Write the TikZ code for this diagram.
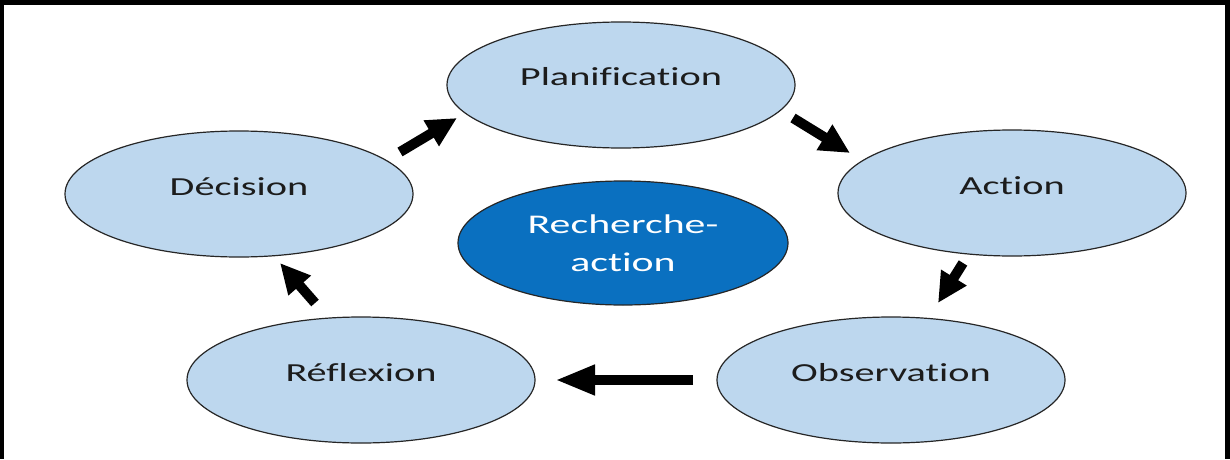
\documentclass[tikz,border=0pt]{standalone}
\usepackage{fontspec}
\setmainfont{Carlito}[FakeStretch=1.55,Ligatures=NoCommon]
\usetikzlibrary{shapes.geometric,arrows.meta}
\definecolor{lightfill}{HTML}{BDD7EE}
\definecolor{darkfill}{HTML}{0A70C0}
\definecolor{txt}{HTML}{1C1C1C}
\begin{document}
\begin{tikzpicture}[x=1pt,y=1pt,
  stage/.style={ellipse,draw=black!85,line width=1.2pt,fill=lightfill,
    minimum width=348pt,minimum height=126pt,inner sep=0pt},
  core/.style={ellipse,draw=black!85,line width=1.2pt,fill=darkfill,
    minimum width=330pt,minimum height=124pt,inner sep=0pt,
    text=white,align=center,font=\fontsize{27}{38}\selectfont},
  lbl/.style={text=txt,font=\fontsize{26}{30}\selectfont},
  blockarrow/.style={line width=10pt,-{Triangle[length=30pt,width=28pt]},black}]
\useasboundingbox (0,0) rectangle (1230,459);
\fill[white] (0,0) rectangle (1230,459);
\draw[line width=5pt,line join=miter] (1.75,0) -- (1.75,456.5) -- (1227.5,456.5) -- (1227.5,0);
\node[stage] (plan) at (621,374) {};
\node[lbl] at ([yshift=8pt]plan.center) {Planification};
\node[stage] (dec) at (239,265) {};
\node[lbl] at ([yshift=7pt]dec.center) {Décision};
\node[stage] (act) at (1012,266) {};
\node[lbl] at ([yshift=7pt]act.center) {Action};
\node[stage] (obs) at (891,79) {};
\node[lbl] at ([yshift=7pt]obs.center) {Observation};
\node[stage] (ref) at (361,79) {};
\node[lbl] at ([yshift=7pt]ref.center) {Réflexion};
\node[core] (ra) at (623,216) {Recherche-\\action};
\coordinate (a1s) at (400,307); \coordinate (a1e) at (457,341);
\coordinate (a2s) at (793,341); \coordinate (a2e) at (850,306);
\coordinate (a3s) at (963,196); \coordinate (a3e) at (938,156);
\coordinate (a4s) at (693,79);  \coordinate (a4e) at (555,79);
\coordinate (a5s) at (315,156); \coordinate (a5e) at (280,196);
\draw[blockarrow] (a1s) -- (a1e);
\draw[blockarrow] (a2s) -- (a2e);
\draw[blockarrow] (a3s) -- (a3e);
\draw[line width=10pt,-{Triangle[length=40pt,width=28pt]}] (a4s) -- (a4e);
\draw[blockarrow] (a5s) -- (a5e);
\end{tikzpicture}
\end{document}
